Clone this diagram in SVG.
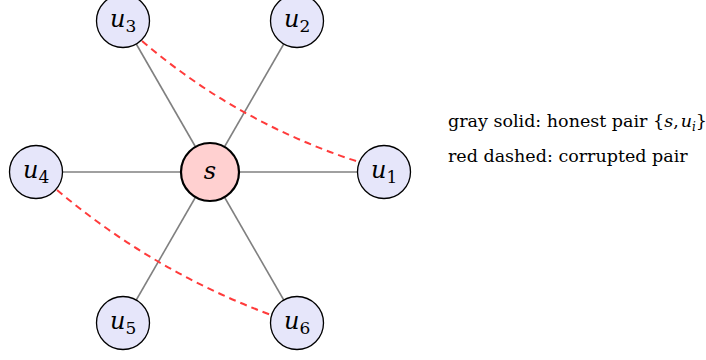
<svg xmlns="http://www.w3.org/2000/svg" width="706" height="360" viewBox="0 0 706 360">
<style>
.edge{stroke:#808080;stroke-width:1.6;fill:none}
.bad{stroke:#ff3b3b;stroke-width:2;stroke-dasharray:7,5;fill:none}
.u{fill:#e6e6fa;stroke:#000;stroke-width:1.3}
.s{fill:#ffd0d0;stroke:#000;stroke-width:2.2}
.m{font-family:"DejaVu Serif","Liberation Serif",serif;font-style:italic;font-size:24px;fill:#000}
.sub{font-size:17px;font-style:normal}
.leg{font-family:"DejaVu Serif","Liberation Serif",serif;font-size:17.5px;fill:#000}
</style>
<rect width="706" height="360" fill="#fff"/>
<g id="connectors">
<line class="edge" x1="210" y1="172" x2="384" y2="172"/>
<line class="edge" x1="210" y1="172" x2="297" y2="21"/>
<line class="edge" x1="210" y1="172" x2="123" y2="21"/>
<line class="edge" x1="210" y1="172" x2="36" y2="172"/>
<line class="edge" x1="210" y1="172" x2="123" y2="323"/>
<line class="edge" x1="210" y1="172" x2="297" y2="323"/>
<path class="bad" d="M142,41 Q238,123 359,162"/>
<path class="bad" d="M57,190 Q153,271 271,315"/>
</g>
<g id="s"><circle class="s" cx="210" cy="172" r="29"/><text class="m" x="210" y="179" text-anchor="middle">s</text></g>
<g id="u1"><circle class="u" cx="384" cy="172" r="26.5"/><text class="m" x="371" y="178">u<tspan class="sub" dy="5">1</tspan></text></g>
<g id="u2"><circle class="u" cx="297" cy="21" r="26.5"/><text class="m" x="284" y="27">u<tspan class="sub" dy="5">2</tspan></text></g>
<g id="u3"><circle class="u" cx="123" cy="21" r="26.5"/><text class="m" x="110" y="27">u<tspan class="sub" dy="5">3</tspan></text></g>
<g id="u4"><circle class="u" cx="36" cy="172" r="26.5"/><text class="m" x="23" y="178">u<tspan class="sub" dy="5">4</tspan></text></g>
<g id="u5"><circle class="u" cx="123" cy="323" r="26.5"/><text class="m" x="110" y="329">u<tspan class="sub" dy="5">5</tspan></text></g>
<g id="u6"><circle class="u" cx="297" cy="323" r="26.5"/><text class="m" x="284" y="329">u<tspan class="sub" dy="5">6</tspan></text></g>
<g id="legend">
<text class="leg" x="448" y="127" font-size="17">gray solid: honest pair {<tspan font-style="italic">s</tspan>,<tspan font-style="italic" dx="2">u</tspan><tspan font-style="italic" font-size="12" dy="4">i</tspan><tspan dy="-4">}</tspan></text>
<text class="leg" x="448" y="162">red dashed: corrupted pair</text>
</g>
</svg>
